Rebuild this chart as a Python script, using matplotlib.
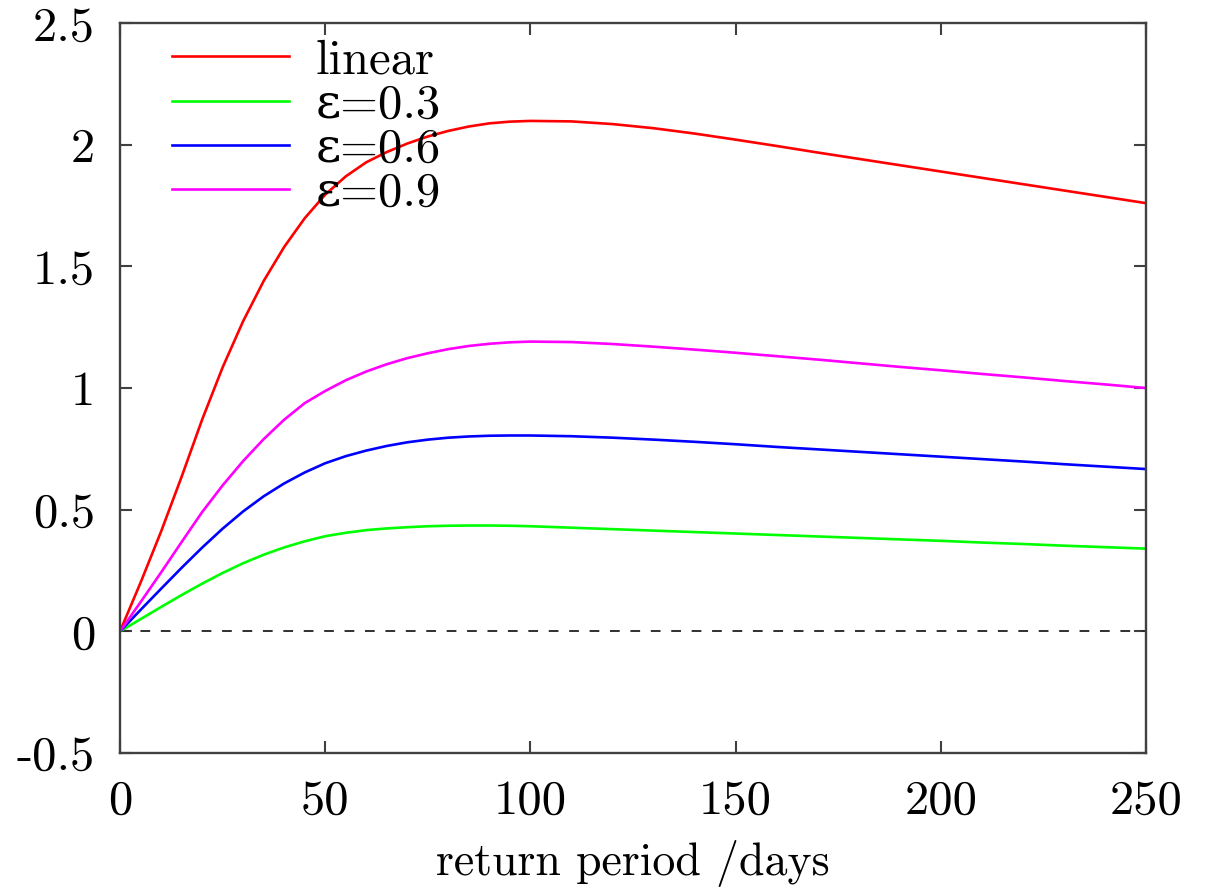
import matplotlib
matplotlib.use("Agg")
import matplotlib.pyplot as plt

# return period in days
days = [0, 5, 10, 15, 20, 25, 30, 35, 40, 45, 50, 55, 60, 65, 70, 75, 80, 85, 90, 95, 100,
        110, 120, 130, 140, 150, 160, 170, 180, 190, 200, 210, 220, 230, 240, 250]

linear = [0, 0.20, 0.41, 0.635, 0.87, 1.085, 1.275, 1.44, 1.58, 1.698, 1.795, 1.870, 1.928,
          1.970, 2.005, 2.034, 2.057, 2.075, 2.088, 2.095, 2.098,
          2.096, 2.085, 2.068, 2.046, 2.021, 1.995, 1.968, 1.942, 1.916, 1.89, 1.864,
          1.838, 1.812, 1.786, 1.76]
eps03 = [0, 0.05, 0.10, 0.149, 0.196, 0.24, 0.28, 0.315, 0.345, 0.37, 0.391, 0.405, 0.416,
         0.423, 0.428, 0.432, 0.434, 0.435, 0.435, 0.434, 0.432,
         0.426, 0.420, 0.414, 0.408, 0.402, 0.396, 0.390, 0.384, 0.378, 0.372, 0.365,
         0.359, 0.352, 0.346, 0.340]
eps06 = [0, 0.088, 0.175, 0.261, 0.344, 0.422, 0.493, 0.555, 0.608, 0.653, 0.691, 0.72, 0.743,
         0.762, 0.777, 0.788, 0.796, 0.801, 0.804, 0.805, 0.805,
         0.802, 0.796, 0.788, 0.779, 0.769, 0.758, 0.748, 0.738, 0.728, 0.718, 0.708,
         0.698, 0.687, 0.677, 0.667]
eps09 = [0, 0.12, 0.242, 0.367, 0.49, 0.60, 0.70, 0.79, 0.87, 0.938, 0.988, 1.032, 1.068,
         1.098, 1.123, 1.143, 1.16, 1.173, 1.182, 1.188, 1.191,
         1.189, 1.181, 1.170, 1.158, 1.145, 1.131, 1.117, 1.102, 1.087, 1.073, 1.058,
         1.044, 1.029, 1.015, 1.0]

labels = ["linear", "ε=0.3", "ε=0.6", "ε=0.9"]
colors = ["#ff0000", "#00ff00", "#0000ff", "#ff00ff"]

xticks = [0, 50, 100, 150, 200, 250]
yticks = [-0.5, 0, 0.5, 1, 1.5, 2, 2.5]
yticklabels = ["-0.5", "0", "0.5", "1", "1.5", "2", "2.5"]

plt.rcParams['font.family'] = ['cmr10', 'DejaVu Serif']
plt.rcParams['axes.unicode_minus'] = False

fig = plt.figure(figsize=(12.05, 8.89), dpi=100)
ax = fig.add_axes([0.0996, 0.153, 0.8515, 0.821])

edge = "#404040"
ax.plot([0, 250], [0, 0], color="#303030", lw=1.4, dashes=(5, 5.5))

for ys, lab, c in zip([linear, eps03, eps06, eps09], labels, colors):
    ax.plot(days, ys, color=c, lw=1.9, label=lab)

ax.set_xlim(0, 250)
ax.set_ylim(-0.5, 2.5)
ax.set_xticks(xticks)
ax.set_xticklabels([str(t) for t in xticks])
ax.set_yticks(yticks)
ax.set_yticklabels(yticklabels)

for s in ax.spines.values():
    s.set_color(edge)
    s.set_linewidth(1.7)
ax.tick_params(axis='both', direction='in', length=8.5, width=1.5, color=edge,
               top=True, right=True, labelsize=35)
ax.tick_params(axis='x', pad=19)
ax.tick_params(axis='y', pad=18)

ax.set_xlabel("return period /days", fontsize=33, labelpad=12)

leg = ax.legend(loc='upper left', bbox_to_anchor=(0.008, 1.038), frameon=False,
                fontsize=35, handlelength=2.4, handletextpad=0.55, labelspacing=0.0)

fig.savefig("out.png", dpi=100)
